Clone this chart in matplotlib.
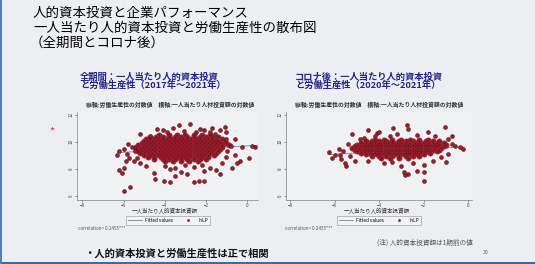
import matplotlib
matplotlib.use("Agg")
from matplotlib import pyplot as plt
from matplotlib.lines import Line2D

plt.rcParams["font.family"] = ["Noto Sans CJK JP", "DejaVu Sans"]

W, H = 535, 264

# 全期間 (2017年～2021年): dense core, read row by row
all_rows_y = [10.5, 10.35, 10.2, 10.05, 9.9, 9.75, 9.6, 9.45, 9.3, 9.15, 9.0, 8.85, 8.7, 8.55]
all_rows_x = [
    [-4.3, -3.8, -3.4, -3.0, -2.6, -2.2, -1.8],
    [-4.7, -4.4, -4.1, -3.8, -3.5, -3.2, -2.9, -2.6, -2.3, -2.0, -1.7, -1.4],
    [-4.9, -4.7, -4.5, -4.3, -4.1, -3.9, -3.7, -3.5, -3.3, -3.1, -2.9, -2.7, -2.5, -2.3, -2.1, -1.9, -1.7, -1.5, -1.2],
    [-5.0, -4.8, -4.6, -4.4, -4.2, -4.0, -3.8, -3.6, -3.4, -3.2, -3.0, -2.8, -2.6, -2.4, -2.2, -2.0, -1.8, -1.6, -1.4, -1.1],
    [-5.1, -4.9, -4.7, -4.5, -4.3, -4.1, -3.9, -3.7, -3.5, -3.3, -3.1, -2.9, -2.7, -2.5, -2.3, -2.1, -1.9, -1.7, -1.5, -1.3, -1.0],
    [-5.3, -5.0, -4.8, -4.6, -4.4, -4.2, -4.0, -3.8, -3.6, -3.4, -3.2, -3.0, -2.8, -2.6, -2.4, -2.2, -2.0, -1.8, -1.6, -1.4, -1.2, -0.9],
    [-5.4, -5.1, -4.9, -4.7, -4.5, -4.3, -4.1, -3.9, -3.7, -3.5, -3.3, -3.1, -2.9, -2.7, -2.5, -2.3, -2.1, -1.9, -1.7, -1.5, -1.2],
    [-5.4, -5.2, -5.0, -4.8, -4.6, -4.4, -4.2, -4.0, -3.8, -3.6, -3.4, -3.2, -3.0, -2.8, -2.6, -2.4, -2.2, -2.0, -1.8, -1.6, -1.3],
    [-5.3, -5.1, -4.9, -4.7, -4.5, -4.3, -4.1, -3.9, -3.7, -3.5, -3.3, -3.1, -2.9, -2.7, -2.5, -2.3, -2.1, -1.9, -1.7, -1.4],
    [-5.2, -5.0, -4.8, -4.6, -4.4, -4.2, -4.0, -3.8, -3.6, -3.4, -3.2, -3.0, -2.8, -2.6, -2.4, -2.2, -2.0, -1.8, -1.5],
    [-5.0, -4.7, -4.5, -4.3, -4.1, -3.9, -3.7, -3.5, -3.3, -3.1, -2.9, -2.7, -2.5, -2.3, -2.1, -1.9, -1.6],
    [-4.8, -4.5, -4.2, -4.0, -3.8, -3.6, -3.4, -3.2, -3.0, -2.8, -2.6, -2.4, -2.2, -1.9],
    [-4.5, -4.1, -3.8, -3.5, -3.2, -2.9, -2.6, -2.3, -2.0],
    [-4.0, -3.6, -3.2, -2.8, -2.4],
]
all_out_x = [-6.0, -5.67, -6.07, -6.2, -6.0, -6.24, -6.0, -5.83, -5.75, -5.51, -5.34, -5.6, -5.45,
             -5.2, -5.18, -4.7, -4.54, -4.46, -4.05, -3.73, -3.73, -3.49, -3.2, -2.9, -2.6, -2.35,
             -2.11, -2.11, -1.8, -1.3, -0.73, -0.33, 0.07, -0.98, -0.25, 0.4, 0.24, -0.57, -1.54,
             -1.0, -2.11, -3.08, -3.32, -2.76, -1.71, -1.06, -4.37, -3.9, -2.5, -4.0, -3.0, -2.2,
             -1.2, -1.0, -0.6, -0.8, -1.0, -5.8, -6.3, -5.9, -4.9, -3.5, -2.6, -1.5, -0.5, -3.6,
             -4.1, -2.3, -1.8, -1.3]
all_out_y = [6.39, 6.64, 7.73, 7.95, 8.03, 9.32, 9.44, 9.12, 8.83, 8.58, 8.83, 9.6, 9.3,
             8.4, 10.59, 10.41, 7.73, 7.25, 7.08, 7.05, 7.98, 7.49, 7.8, 7.6, 7.0, 7.08,
             7.12, 7.85, 8.1, 7.61, 8.1, 8.58, 8.83, 9.32, 9.6, 9.6, 9.68, 10.17, 10.54,
             10.7, 10.9, 10.78, 11.27, 11.32, 11.03, 11.1, 10.95, 10.7, 10.75, 8.2, 8.3, 8.25,
             8.4, 8.9, 9.0, 9.7, 10.2, 9.8, 9.0, 8.6, 8.2, 8.1, 8.15, 7.9, 8.4, 11.0,
             10.85, 10.95, 10.75, 10.9]
all_fit_x = [-6.3, 0.5]
all_fit_y = [9.2, 9.74]

# コロナ後 (2020年～2021年)
covid_rows_y = [10.15, 10.03, 9.91, 9.79, 9.67, 9.55, 9.43, 9.31, 9.19, 9.07, 8.95, 8.83]
covid_rows_x = [
    [-4.2, -3.8, -3.4, -3.0, -2.6, -2.2, -1.8],
    [-4.6, -4.3, -4.0, -3.7, -3.4, -3.1, -2.8, -2.5, -2.2, -1.9, -1.6, -1.3],
    [-4.8, -4.6, -4.4, -4.2, -4.0, -3.8, -3.6, -3.4, -3.2, -3.0, -2.8, -2.6, -2.4, -2.2, -2.0, -1.8, -1.6, -1.4, -1.1],
    [-5.0, -4.7, -4.5, -4.3, -4.1, -3.9, -3.7, -3.5, -3.3, -3.1, -2.9, -2.7, -2.5, -2.3, -2.1, -1.9, -1.7, -1.5, -1.3, -1.0],
    [-5.1, -4.8, -4.6, -4.4, -4.2, -4.0, -3.8, -3.6, -3.4, -3.2, -3.0, -2.8, -2.6, -2.4, -2.2, -2.0, -1.8, -1.6, -1.4, -1.1],
    [-5.2, -4.9, -4.7, -4.5, -4.3, -4.1, -3.9, -3.7, -3.5, -3.3, -3.1, -2.9, -2.7, -2.5, -2.3, -2.1, -1.9, -1.7, -1.5, -1.2],
    [-5.1, -4.8, -4.6, -4.4, -4.2, -4.0, -3.8, -3.6, -3.4, -3.2, -3.0, -2.8, -2.6, -2.4, -2.2, -2.0, -1.8, -1.6, -1.3],
    [-5.0, -4.7, -4.5, -4.3, -4.1, -3.9, -3.7, -3.5, -3.3, -3.1, -2.9, -2.7, -2.5, -2.3, -2.1, -1.9, -1.7, -1.4],
    [-4.8, -4.6, -4.4, -4.2, -4.0, -3.8, -3.6, -3.4, -3.2, -3.0, -2.8, -2.6, -2.4, -2.2, -2.0, -1.7],
    [-4.6, -4.3, -4.1, -3.9, -3.7, -3.5, -3.3, -3.1, -2.9, -2.7, -2.5, -2.3, -2.0],
    [-4.3, -4.0, -3.7, -3.4, -3.1, -2.8, -2.5, -2.2],
    [-3.9, -3.5, -3.1, -2.7],
]
covid_out_x = [-5.23, -6.24, -6.13, -5.98, -5.75, -5.7, -5.49, -5.55, -5.31, -5.09, -4.86, -4.7,
               -4.49, -4.11, -3.37, -2.7, -2.77, -1.05, -0.75, -0.9, -0.38, -0.23, -0.75, -0.6,
               -1.97, -2.32, -2.7, -2.84, -2.9, -3.0, -2.0, -1.6, -3.8, -4.5, -4.2, -3.5, -2.3,
               -1.5, -1.2, -0.9, -5.8, -5.6, -5.4, -4.0, -1.8, -3.2, -2.0, -1.0, -3.4, -2.5]
covid_out_y = [10.54, 9.24, 8.78, 9.0, 9.05, 8.75, 8.22, 8.4, 8.95, 8.58, 10.17, 10.3,
               10.9, 10.66, 11.03, 10.98, 11.27, 11.07, 10.41, 10.2, 9.61, 9.49, 9.8, 9.7,
               7.12, 7.85, 7.61, 7.55, 7.8, 8.2, 8.3, 8.6, 8.4, 8.6, 10.4, 10.45, 10.5,
               10.4, 8.9, 9.1, 9.5, 9.3, 9.8, 10.7, 10.7, 10.55, 7.8, 8.5, 8.5, 8.4]
covid_fit_x = [-6.3, -0.2]
covid_fit_y = [9.05, 9.62]

x_ticks = [-8, -6, -4, -2, 0]
y_ticks = [6, 8, 10, 12]

BG = "#eceef1"
DOT = "#9a1f2e"
DOT_EDGE = "#4a0c14"
LINE = "#7b8794"
NAVY = "#23238a"


def fx(px):
    return px / W


def fy(py):
    return 1 - py / H


def draw_panel(ax, rows_y, rows_x, out_x, out_y, fit_x, fit_y, xlim):
    core_x, core_y = [], []
    for y, row in zip(rows_y, rows_x):
        core_x += row
        core_y += [y] * len(row)

    ax.set_facecolor("#eff1f3")
    ax.plot(fit_x, fit_y, color=LINE, lw=0.6, zorder=1)
    # overlapping markers in the core so it reads as one solid mass
    ax.scatter(core_x, core_y, s=16, c=DOT, edgecolors=DOT, linewidths=0.2, zorder=2)
    ax.scatter(core_x, core_y, s=2, c=DOT_EDGE, linewidths=0, zorder=3, alpha=0.5)
    ax.scatter(out_x, out_y, s=8, c=DOT, edgecolors=DOT_EDGE, linewidths=0.35, zorder=2)

    ax.set_xlim(*xlim)
    ax.set_ylim(5.7, 12.2)
    ax.set_xticks(x_ticks)
    ax.set_yticks(y_ticks)
    ax.tick_params(labelsize=3.3, length=1.6, width=0.4, colors="#444", pad=0.8)
    for lab in ax.get_yticklabels():
        lab.set_rotation(90)
        lab.set_va("center")
    for side in ["top", "right"]:
        ax.spines[side].set_visible(False)
    for side in ["left", "bottom"]:
        ax.spines[side].set_color("#666")
        ax.spines[side].set_linewidth(0.4)


fig = plt.figure(figsize=(W / 100, H / 100), dpi=100)
fig.patch.set_facecolor(BG)

ax1 = fig.add_axes([fx(77), fy(200), fx(258) - fx(77), fy(112) - fy(200)])
draw_panel(ax1, all_rows_y, all_rows_x, all_out_x, all_out_y, all_fit_x, all_fit_y, (-8.26, 0.53))

ax2 = fig.add_axes([fx(286), fy(200), fx(472) - fx(286), fy(112) - fy(200)])
draw_panel(ax2, covid_rows_y, covid_rows_x, covid_out_x, covid_out_y, covid_fit_x, covid_fit_y, (-8.18, 0.17))

# slide title
fig.text(fx(33), fy(13), "人的資本投資と企業パフォーマンス", fontsize=9.7, va="center")
fig.text(fx(33), fy(28), "一人当たり人的資本投資と労働生産性の散布図", fontsize=9.7, va="center")
fig.text(fx(30), fy(43), "（全期間とコロナ後）", fontsize=9.7, va="center")

# panel headings
fig.text(fx(80), fy(77), "全期間：一人当たり人的資本投資", fontsize=6.7, color=NAVY,
         weight="bold", va="center")
fig.text(fx(80), fy(85.5), "と労働生産性（2017年～2021年）", fontsize=6.7, color=NAVY,
         weight="bold", va="center")
fig.text(fx(295), fy(77), "コロナ後：一人当たり人的資本投資", fontsize=6.7, color=NAVY,
         weight="bold", va="center")
fig.text(fx(295), fy(85.5), "と労働生産性（2020年～2021年）", fontsize=6.7, color=NAVY,
         weight="bold", va="center")

sub = "縦軸:労働生産性の対数値　横軸:一人当たり人材投資額の対数値"
fig.text(fx(170), fy(105), sub, fontsize=4.2, color="#333", weight="bold", ha="center", va="center")
fig.text(fx(379), fy(105), sub, fontsize=4.2, color="#333", weight="bold", ha="center", va="center")

for cx in [165, 377]:
    fig.text(fx(cx), fy(211.5), "一人当たり人的資本投資額", fontsize=4.0, color="#333",
             ha="center", va="center")

handles = [Line2D([], [], color=LINE, lw=0.6),
           Line2D([], [], color=DOT, marker="o", ls="", ms=1.6, mec=DOT_EDGE, mew=0.3)]
for ax, cx in [(ax1, 168), (ax2, 379)]:
    leg = ax.legend(handles, ["Fitted values", "lnLP"], ncol=2, fontsize=3.4,
                    loc="center", bbox_to_anchor=(fx(cx), fy(220.5)),
                    bbox_transform=fig.transFigure, frameon=True, fancybox=False,
                    handlelength=3.0, columnspacing=1.6, borderpad=0.5, handletextpad=0.7)
    leg.get_frame().set_edgecolor("#777")
    leg.get_frame().set_linewidth(0.4)
    leg.get_frame().set_facecolor("#f4f5f6")

fig.text(fx(78), fy(228), "correlation= 0.2455***", fontsize=3.3, color="#555", va="center")
fig.text(fx(285), fy(228), "correlation= 0.2455***", fontsize=3.3, color="#555", va="center")

fig.text(fx(52), fy(131), "*", fontsize=8, color="#e8323c", ha="center", va="center")

fig.text(fx(84), fy(253), "・人的資本投資と労働生産性は正で相関", fontsize=7.4,
         weight="bold", color="#111", va="center")
fig.text(fx(377), fy(243), "(注) 人的資本投資額は1期前の値", fontsize=4.8, color="#555", va="center")
fig.text(fx(483), fy(252), "30", fontsize=3.8, color="#555", va="center")

# blue frame pieces of the slide
fig.add_artist(plt.Rectangle((0, 0), 1, fy(261.5), transform=fig.transFigure,
                             color="#2f6db5", lw=0))
fig.add_artist(plt.Rectangle((0, 0), fx(2), 1, transform=fig.transFigure,
                             color="#4a7fc0", lw=0))

fig.savefig("out.png", dpi=100, facecolor=fig.get_facecolor())
